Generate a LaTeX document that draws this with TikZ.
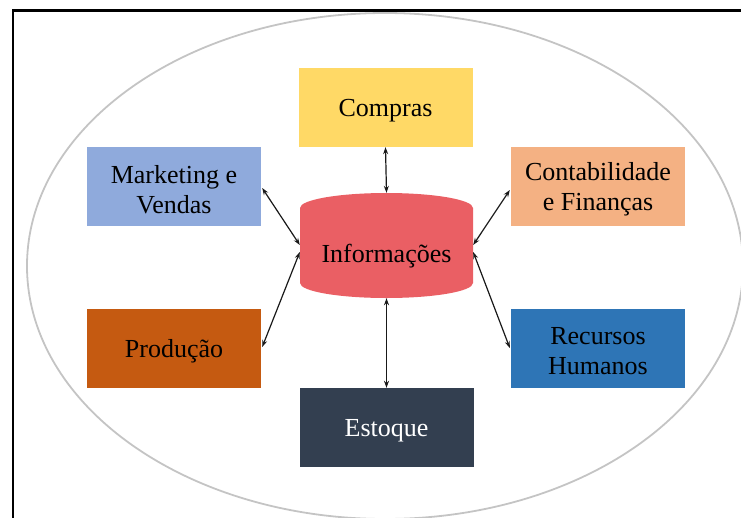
\documentclass[tikz,border=0pt]{standalone}
\usepackage{fontspec}
\setmainfont{Liberation Serif}
\usetikzlibrary{arrows.meta,calc}
\definecolor{mktblue}{HTML}{8FAADC}
\definecolor{buyyellow}{HTML}{FFD966}
\definecolor{finorange}{HTML}{F4B183}
\definecolor{prodbrown}{HTML}{C55A11}
\definecolor{hrblue}{HTML}{2E75B6}
\definecolor{stocknavy}{HTML}{333F50}
\definecolor{infored}{HTML}{EA5F64}
\definecolor{ringgray}{HTML}{C4C4C4}
\tikzset{
  dept/.style={rectangle, minimum width=174pt, minimum height=79pt, inner sep=0pt},
  caption/.style={align=center, inner sep=0pt, font=\fontsize{26}{30}\selectfont, text=black},
  link/.style={draw=black!90, line width=1.2pt,
    {Stealth[length=7pt,width=5pt]}-{Stealth[length=7pt,width=5pt]}}
}
\begin{document}
\begin{tikzpicture}[x=1pt,y=-1pt]
  \useasboundingbox (0,0) rectangle (741,517);
  % outer frame (runs off the right and bottom edges)
  \begin{scope}
    \clip (0,0) rectangle (741,517);
    \draw[line width=2.6pt] (13,10.5) rectangle (780,560);
  \end{scope}
  % enclosing ellipse
  \draw[ringgray, line width=1.8pt] (385,266) ellipse [x radius=358, y radius=253];
  % central database drum
  \fill[infored] (300,208) .. controls (300,199.7) and (338.7,193) .. (386.5,193)
    .. controls (434.3,193) and (473,199.7) .. (473,208)
    -- (473,283) .. controls (473,291.3) and (434.3,298) .. (386.5,298)
    .. controls (338.7,298) and (300,291.3) .. (300,283) -- cycle;
  \node[dept, minimum width=173pt, minimum height=105pt] (info) at (386.5,245.5) {};
  \node[caption] (infotext) at (386.5,256) {Informações};
  % departments
  \node[dept, fill=buyyellow]  (buy)   at (385.5,107.5) {};
  \node[dept, fill=mktblue]    (mkt)   at (174,186.5)   {};
  \node[dept, fill=finorange]  (fin)   at (598,186.5)   {};
  \node[dept, fill=prodbrown]  (prod)  at (174,348.5)   {};
  \node[dept, fill=hrblue]     (hr)    at (598,348.5)   {};
  \node[dept, fill=stocknavy]  (stock) at (386.5,427.5) {};
  \node[caption] (buytext)   at (385.5,110.5) {Compras};
  \node[caption] (mkttext)   at (174,189.5)   {Marketing e\\Vendas};
  \node[caption] (fintext)   at (598,189.5)   {Contabilidade\\e Finanças};
  \node[caption] (prodtext)  at (174,351.5)   {Produção};
  \node[caption] (hrtext)    at (598,351.5)   {Recursos\\Humanos};
  \node[caption, text=white] (stocktext) at (386.5,430.5) {Estoque};
  % links to the information hub
  \draw[link] (buy.south) -- (info.north);
  \draw[link] (stock.north) -- (info.south);
  \draw[link] ($(mkt.east)+(1,1.5)$) -- ($(info.west)+(0,-0.5)$);
  \draw[link] ($(prod.east)+(1,-1.5)$) -- ($(info.west)+(0,6.5)$);
  \draw[link] ($(fin.west)+(-1,3.5)$) -- ($(info.east)+(0,-0.5)$);
  \draw[link] ($(hr.west)+(-1,-0.5)$) -- ($(info.east)+(0,6.5)$);
\end{tikzpicture}
\end{document}
